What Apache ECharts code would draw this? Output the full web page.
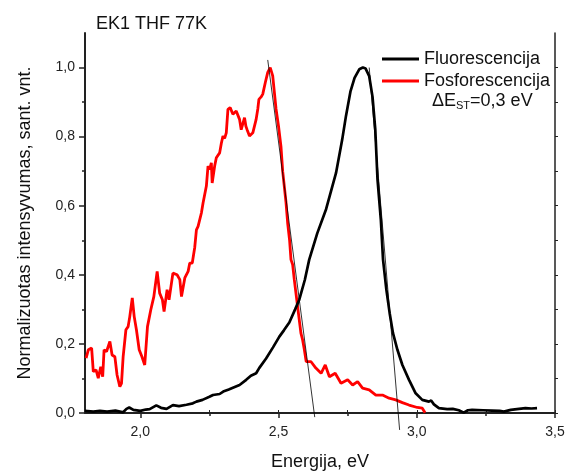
<!DOCTYPE html>
<html>
<head>
<meta charset="utf-8">
<script src="https://cdn.jsdelivr.net/npm/echarts@6/dist/echarts.min.js"></script>
<style>
  html, body { margin: 0; padding: 0; background: #fff; }
  #chart { width: 569px; height: 473px; }
</style>
</head>
<body>
<div id="chart"></div>
<script>
// Fluorescencija (juoda)
const fluoX = [1.800,1.830,1.854,1.880,1.910,1.938,1.950,1.960,1.975,2.000,2.020,2.034,2.058,2.075,2.095,2.118,2.140,2.167,2.190,2.203,
  2.225,2.250,2.263,2.287,2.300,2.320,2.335,2.359,2.383,2.400,2.419,2.430,2.455,2.480,2.503,2.520,2.539,2.560,2.575,2.595,
  2.611,2.640,2.672,2.708,2.730,2.744,2.760,2.775,2.792,2.805,2.815,2.828,2.840,2.850,2.858,2.870,2.878,2.890,2.902,2.914,
  2.930,2.948,2.972,2.996,3.020,3.044,3.052,3.062,3.080,3.110,3.130,3.152,3.170,3.185,3.200,3.240,
  3.272,3.300,3.315,3.340,3.370,3.393,3.415,3.435]
const fluoY = [0.006,0.004,0.006,0.004,0.007,0.002,0.012,0.016,0.009,0.006,0.010,0.011,0.022,0.015,0.012,0.023,0.020,0.024,0.028,0.033,
  0.038,0.047,0.052,0.055,0.062,0.068,0.073,0.081,0.096,0.108,0.115,0.130,0.158,0.190,0.221,0.240,0.262,0.300,0.328,0.385,
  0.444,0.520,0.590,0.695,0.790,0.860,0.930,0.970,0.995,1.000,0.997,0.975,0.915,0.820,0.676,0.560,0.444,0.357,0.289,0.231,
  0.183,0.139,0.096,0.057,0.038,0.033,0.036,0.025,0.014,0.011,0.012,0.008,0.001,0.008,0.009,0.008,
  0.007,0.006,0.004,0.009,0.012,0.014,0.013,0.014]

// Fosforescencija (raudona)
const phosX = [1.804,1.812,1.818,1.824,1.830,1.840,1.848,1.857,1.864,1.869,1.878,1.890,1.898,1.908,1.916,1.926,1.932,1.938,1.948,1.956,
  1.962,1.971,1.978,1.986,1.996,2.006,2.016,2.026,2.038,2.049,2.061,2.070,2.080,2.086,2.097,2.104,2.118,2.133,2.143,2.149,
  2.161,2.173,2.179,2.188,2.197,2.203,2.209,2.221,2.227,2.239,2.245,2.251,2.257,2.260,2.269,2.275,2.287,2.293,2.299,2.305,
  2.311,2.317,2.325,2.335,2.341,2.347,2.359,2.365,2.369,2.377,2.382,2.386,2.395,2.407,2.419,2.425,2.429,2.437,2.443,2.452,
  2.461,2.470,2.479,2.491,2.500,2.509,2.515,2.527,2.533,2.540,2.545,2.551,2.557,2.569,2.581,2.587,2.593,2.600,2.617,2.635,
  2.654,2.669,2.684,2.705,2.726,2.750,2.768,2.786,2.804,2.828,2.852,2.876,2.900,2.924,2.948,2.972,3.002,3.020,3.030]
const phosY = [0.159,0.183,0.180,0.188,0.120,0.125,0.101,0.134,0.105,0.183,0.178,0.207,0.168,0.163,0.110,0.076,0.086,0.163,0.241,0.250,
  0.279,0.333,0.279,0.241,0.183,0.163,0.139,0.250,0.299,0.337,0.410,0.347,0.328,0.294,0.357,0.328,0.405,0.400,0.386,0.337,
  0.391,0.410,0.434,0.434,0.480,0.530,0.540,0.579,0.608,0.657,0.715,0.705,0.724,0.666,0.715,0.739,0.753,0.780,0.802,0.795,
  0.811,0.879,0.884,0.865,0.870,0.874,0.850,0.820,0.816,0.855,0.830,0.821,0.802,0.811,0.850,0.880,0.908,0.915,0.923,0.956,
  0.986,1.000,0.976,0.880,0.830,0.770,0.700,0.610,0.550,0.500,0.444,0.430,0.386,0.308,0.231,0.212,0.185,0.149,0.149,0.130,
  0.115,0.139,0.105,0.115,0.086,0.096,0.081,0.091,0.072,0.067,0.052,0.052,0.043,0.038,0.030,0.023,0.016,0.014,0.001]

// liestinės
const tangent1 = [[2.461, 1.022], [2.631, -0.012]]
const tangent2 = [[2.828, 1.000], [2.938, -0.049]]

const xMajor = [2.0, 2.5, 3.0, 3.5]
const xMinor = [2.25, 2.75, 3.25]
const yMajor = [0, 0.2, 0.4, 0.6, 0.8, 1.0]
const yMinor = [0.1, 0.3, 0.5, 0.7, 0.9]

const FONT = 'Liberation Sans, Arial, sans-serif'
const comma = (v) => v.toFixed(1).replace('.', ',')
const pairs = (xs, ys) => xs.map((x, i) => [x, ys[i]])

const chart = echarts.init(document.getElementById('chart'))

const axisLine = (w) => ({ show: true, lineStyle: { color: '#222', width: w } })

const option = {
  backgroundColor: '#fff',
  animation: false,
  textStyle: { fontFamily: FONT },
  title: {
    text: 'EK1 THF 77K',
    left: 91, top: 10,
    textStyle: { fontFamily: FONT, fontSize: 18, fontWeight: 'normal', color: '#111' }
  },
  legend: {
    data: ['Fluorescencija', 'Fosforescencija'],
    orient: 'vertical',
    left: 377, top: 45,
    icon: 'rect',
    itemWidth: 37, itemHeight: 3,
    itemGap: 4,
    textStyle: { fontFamily: FONT, fontSize: 18, color: '#111' }
  },
  graphic: [{
    type: 'text',
    left: 432, top: 92,
    style: {
      text: '{a|ΔE}{s|ST}{a|=0,3 eV}',
      rich: {
        a: { fontFamily: FONT, fontSize: 18, fill: '#111' },
        s: { fontFamily: FONT, fontSize: 11, fill: '#111', verticalAlign: 'bottom', padding: [9, 0, 0, 0] }
      }
    }
  }],
  grid: { left: 85, right: 14, top: 33, bottom: 60, containLabel: false, outerBoundsMode: 'none' },
  xAxis: [
    {
      type: 'value', position: 'bottom', min: 1.8, max: 3.5,
      name: 'Energija, eV', nameLocation: 'middle', nameGap: 40,
      nameTextStyle: { fontFamily: FONT, fontSize: 18, color: '#111' },
      axisLine: axisLine(2),
      axisTick: { show: true, customValues: xMajor, length: 5, inside: false, lineStyle: { color: '#222', width: 1.5 } },
      axisLabel: { customValues: xMajor, formatter: comma, margin: 12, fontFamily: FONT, fontSize: 14, color: '#222' },
      splitLine: { show: false }
    },
    {
      type: 'value', position: 'bottom', min: 1.8, max: 3.5,
      axisLine: { show: false },
      axisTick: { show: true, customValues: xMinor, length: 3, inside: false, lineStyle: { color: '#222', width: 1.5 } },
      axisLabel: { show: false },
      splitLine: { show: false }
    },
    {
      type: 'value', position: 'top', min: 1.8, max: 3.5,
      axisLine: axisLine(1.5),
      axisTick: { show: true, customValues: [2.0, 2.25, 2.5, 2.75, 3.0, 3.25, 3.5], length: 3, inside: false, lineStyle: { color: '#222' } },
      axisLabel: { show: false },
      splitLine: { show: false }
    }
  ],
  yAxis: [
    {
      type: 'value', position: 'left', min: 0, max: 1.1,
      name: 'Normalizuotas intensyvumas, sant. vnt.', nameLocation: 'middle', nameGap: 51,
      nameTextStyle: { fontFamily: FONT, fontSize: 18, color: '#111' },
      axisLine: axisLine(2),
      axisTick: { show: true, customValues: yMajor, length: 6, inside: false, lineStyle: { color: '#222', width: 1.5 } },
      axisLabel: { customValues: yMajor, formatter: comma, margin: 10, fontFamily: FONT, fontSize: 14, color: '#222' },
      splitLine: { show: false }
    },
    {
      type: 'value', position: 'left', min: 0, max: 1.1,
      axisLine: { show: false },
      axisTick: { show: true, customValues: yMinor, length: 3, inside: false, lineStyle: { color: '#222', width: 1.5 } },
      axisLabel: { show: false },
      splitLine: { show: false }
    },
    {
      type: 'value', position: 'right', min: 0, max: 1.1,
      axisLine: axisLine(1.5),
      axisTick: { show: true, customValues: [0, 0.1, 0.2, 0.3, 0.4, 0.5, 0.6, 0.7, 0.8, 0.9, 1.0], length: 3, inside: false, lineStyle: { color: '#222' } },
      axisLabel: { show: false },
      splitLine: { show: false }
    }
  ],
  series: [
    {
      name: 'Fluorescencija', type: 'line', xAxisIndex: 0, yAxisIndex: 0,
      data: pairs(fluoX, fluoY), showSymbol: false, symbol: 'none',
      color: '#000', lineStyle: { color: '#000', width: 2.7 }, z: 3
    },
    {
      name: 'Fosforescencija', type: 'line', xAxisIndex: 0, yAxisIndex: 0,
      data: pairs(phosX, phosY), showSymbol: false, symbol: 'none',
      color: '#ff0000', lineStyle: { color: '#ff0000', width: 2.8 }, z: 2
    },
    {
      name: 't1', type: 'line', xAxisIndex: 0, yAxisIndex: 0, data: tangent1,
      symbol: 'none', clip: false, silent: true,
      lineStyle: { color: '#000', width: 0.8 }, z: 4
    },
    {
      name: 't2', type: 'line', xAxisIndex: 0, yAxisIndex: 0, data: tangent2,
      symbol: 'none', clip: false, silent: true,
      lineStyle: { color: '#000', width: 0.8 }, z: 4
    }
  ]
}

chart.setOption(option)
window.addEventListener('resize', function () {
  chart.resize()
})
</script>
</body>
</html>
